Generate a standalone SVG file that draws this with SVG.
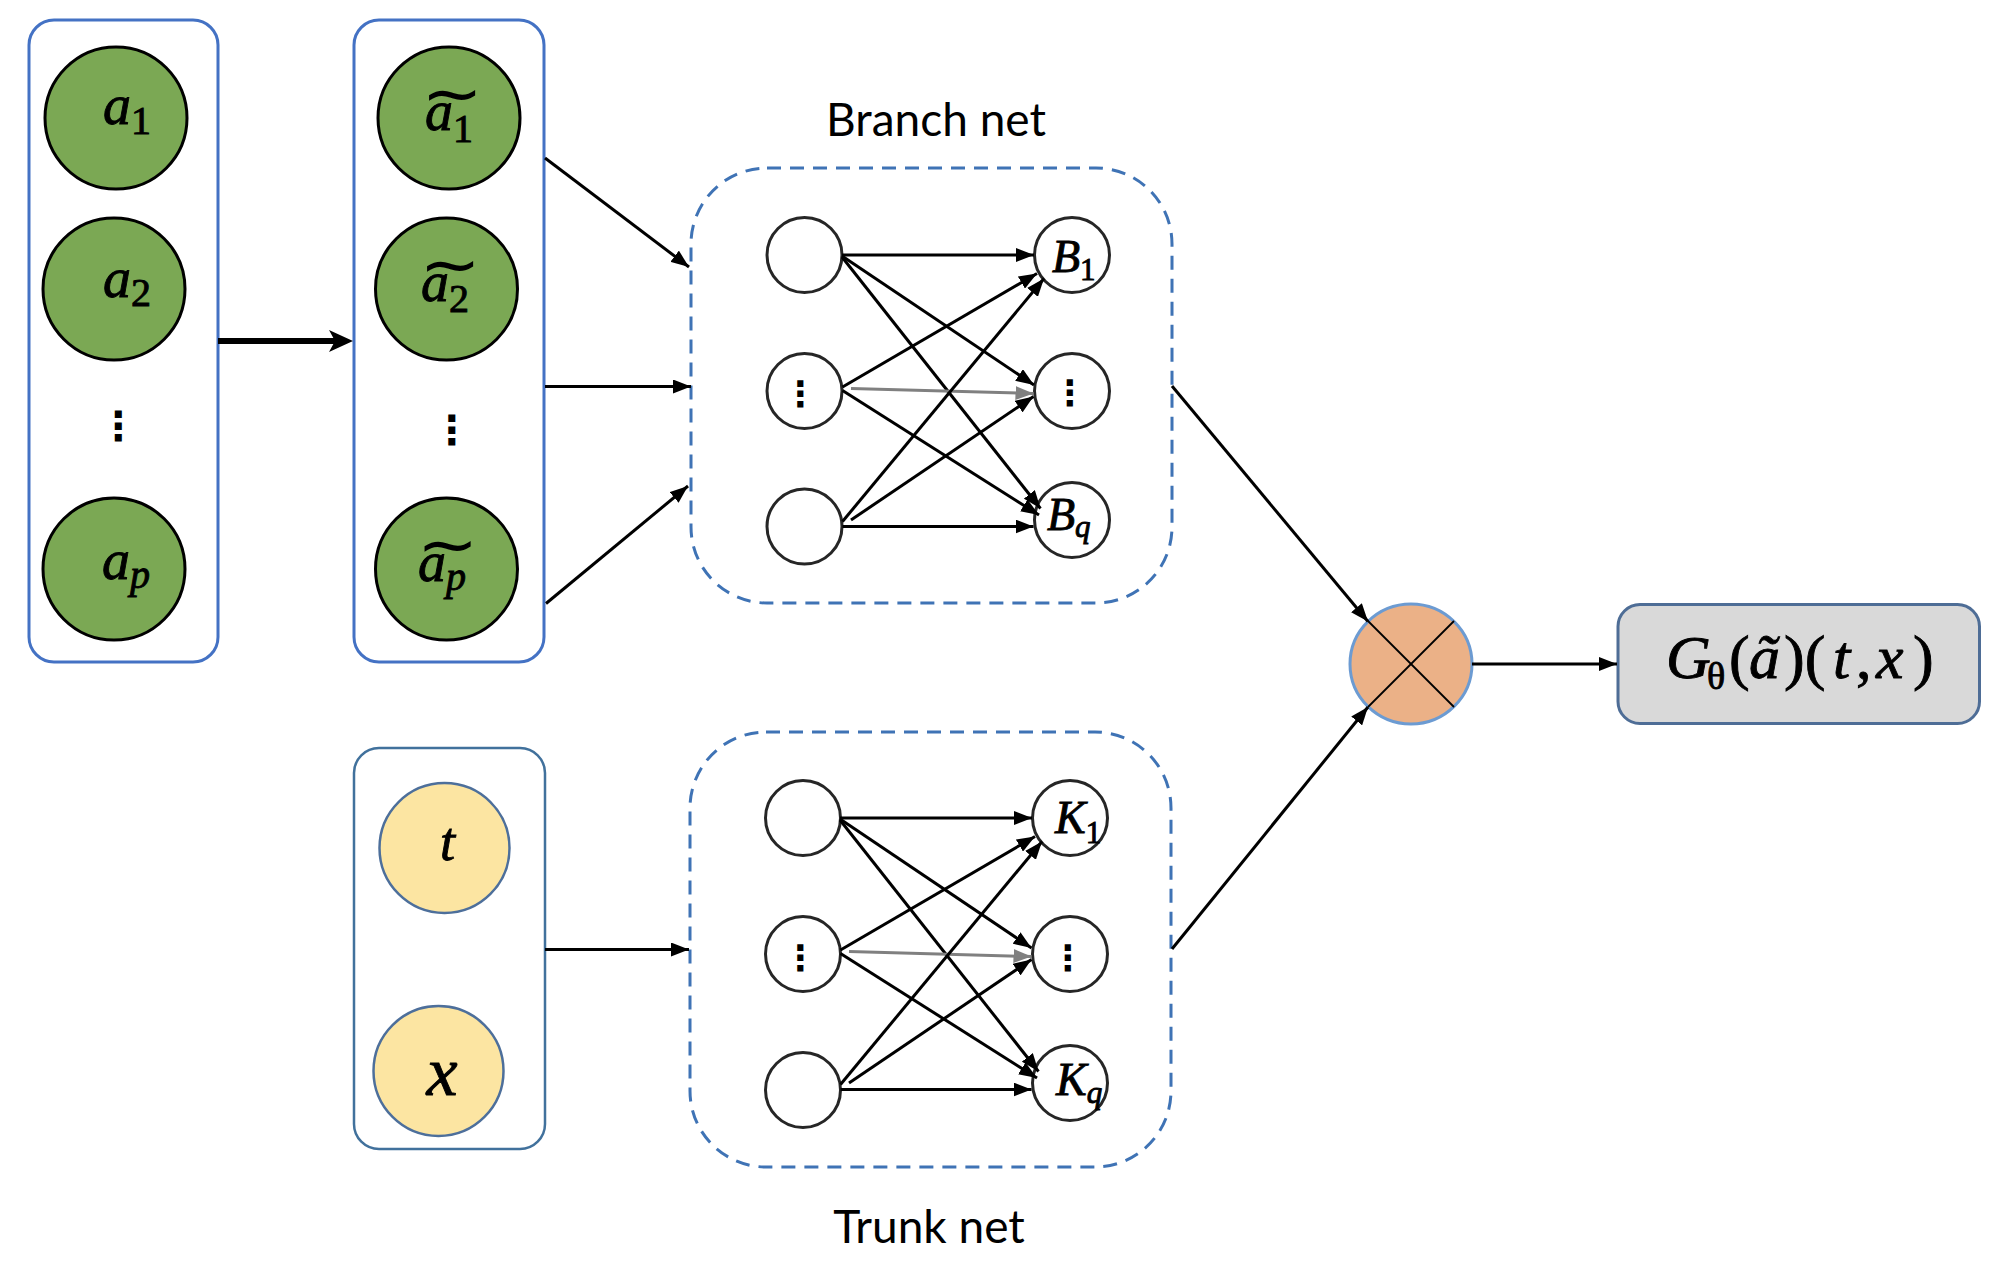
<svg xmlns="http://www.w3.org/2000/svg" width="1996" height="1264" viewBox="0 0 1996 1264">
<defs>
<marker id="ah" viewBox="0 0 18 14" refX="18" refY="7" markerWidth="18" markerHeight="14" markerUnits="userSpaceOnUse" orient="auto"><path d="M0,0L18,7L0,14z" fill="#000"/></marker>
<marker id="ahg" viewBox="0 0 18 14" refX="18" refY="7" markerWidth="18" markerHeight="14" markerUnits="userSpaceOnUse" orient="auto"><path d="M0,0L18,7L0,14z" fill="#808080"/></marker>
<marker id="ahs" viewBox="0 0 24 22" refX="6" refY="11" markerWidth="24" markerHeight="22" markerUnits="userSpaceOnUse" orient="auto"><path d="M0,0L24,11L0,22L6,11z" fill="#000"/></marker>
</defs>
<style>
.box{fill:#fff;stroke:#4472C4;stroke-width:3}
.box3{fill:#fff;stroke:#41719C;stroke-width:2.5}
.green{fill:#7BA854;stroke:#000;stroke-width:3}
.yel{fill:#FCE5A2;stroke:#4D6F9B;stroke-width:2.5}
.dash{fill:none;stroke:#3F73B5;stroke-width:3;stroke-dasharray:14 9}
.node{fill:#fff;stroke:#262626;stroke-width:3}
.e{stroke:#000;stroke-width:3;fill:none;marker-end:url(#ah)}
.eg{stroke:#808080;stroke-width:3;fill:none;marker-end:url(#ahg)}
.m{font-family:"Liberation Serif","DejaVu Serif",serif;font-style:italic;fill:#000;stroke:#000;stroke-width:0.9}
.u{font-style:normal}
.tl{font-family:"DejaVu Sans",sans-serif;font-size:64px;text-anchor:middle;fill:#000}
.title{font-family:Lato,"Open Sans",sans-serif;font-size:46px;text-anchor:middle;fill:#000}
.dots{font-family:"DejaVu Sans",sans-serif;text-anchor:middle;fill:#000;font-weight:bold}
</style>
<rect width="1996" height="1264" fill="#fff"/>

<g id="input-a">
<rect class="box" x="29" y="20" width="189" height="642" rx="25"/>
<circle class="green" cx="116" cy="118" r="71"/>
<text class="m" x="103" y="124" font-size="56">a<tspan class="u" font-size="40" dy="10">1</tspan></text>
<circle class="green" cx="114" cy="289" r="71"/>
<text class="m" x="103" y="297" font-size="56">a<tspan class="u" font-size="40" dy="9">2</tspan></text>
<text class="dots" x="118.5" y="440" font-size="40">⋮</text>
<circle class="green" cx="114" cy="569" r="71"/>
<text class="m" x="102" y="579" font-size="56">a<tspan font-size="40" dy="9">p</tspan></text>
</g>

<g id="input-a-tilde">
<rect class="box" x="354" y="20" width="190" height="642" rx="25"/>
<circle class="green" cx="449" cy="118" r="71"/>
<text class="tl" transform="translate(452,115) scale(1.15,1)">~</text>
<text class="m" x="425" y="130" font-size="56">a<tspan class="u" font-size="40" dy="12">1</tspan></text>
<circle class="green" cx="446.5" cy="289" r="71"/>
<text class="tl" transform="translate(450,286) scale(1.15,1)">~</text>
<text class="m" x="421" y="301" font-size="56">a<tspan class="u" font-size="40" dy="11">2</tspan></text>
<text class="dots" x="452" y="444" font-size="40">⋮</text>
<circle class="green" cx="446.5" cy="569" r="71"/>
<text class="tl" transform="translate(447.5,566) scale(1.15,1)">~</text>
<text class="m" x="418" y="581" font-size="56">a<tspan font-size="40" dy="9">p</tspan></text>
</g>

<g id="input-tx">
<rect class="box3" x="354" y="748" width="191" height="401" rx="25"/>
<circle class="yel" cx="444.5" cy="848" r="65"/>
<text class="m" x="447.5" y="860" font-size="54" text-anchor="middle">t</text>
<circle class="yel" cx="438.5" cy="1071" r="65"/>
<text class="m" x="442" y="1095" font-size="70" text-anchor="middle">x</text>
</g>

<g id="branch-net">
<text class="title" x="936" y="136">Branch net</text>
<rect class="dash" x="691" y="168" width="481" height="435" rx="76"/>
<circle class="node" cx="804.5" cy="255" r="37.5"/>
<circle class="node" cx="804.5" cy="391" r="37.5"/>
<text class="dots" x="800.5" y="406" font-size="35">⋮</text>
<circle class="node" cx="804.5" cy="526.5" r="37.5"/>
<circle class="node" cx="1072" cy="255" r="37.5"/>
<text class="m" x="1052" y="272" font-size="46">B<tspan class="u" font-size="31" dy="8">1</tspan></text>
<circle class="node" cx="1072" cy="391" r="37.5"/>
<text class="dots" x="1070" y="405" font-size="35">⋮</text>
<circle class="node" cx="1072" cy="520" r="37.5"/>
<text class="m" x="1047" y="530" font-size="46">B<tspan font-size="31" dy="7">q</tspan></text>
</g>

<g id="trunk-net">
<rect class="dash" x="690" y="732" width="481" height="435" rx="76"/>
<circle class="node" cx="803" cy="818" r="37.5"/>
<circle class="node" cx="803" cy="954" r="37.5"/>
<text class="dots" x="800.5" y="969.5" font-size="35">⋮</text>
<circle class="node" cx="803" cy="1090" r="37.5"/>
<circle class="node" cx="1070" cy="818" r="37.5"/>
<text class="m" x="1055" y="833" font-size="46">K<tspan class="u" font-size="31" dy="10">1</tspan></text>
<circle class="node" cx="1070" cy="954" r="37.5"/>
<text class="dots" x="1068" y="969.5" font-size="35">⋮</text>
<circle class="node" cx="1070" cy="1083" r="37.5"/>
<text class="m" x="1056" y="1095" font-size="46">K<tspan font-size="31" dy="8">q</tspan></text>
<text class="title" x="929" y="1243">Trunk net</text>
</g>

<g id="multiply">
<ellipse cx="1411" cy="664" rx="61" ry="60" fill="#EBB187" stroke="#6C9BD2" stroke-width="3"/>
<line x1="1368" y1="621" x2="1454" y2="707" stroke="#000" stroke-width="1.8"/>
<line x1="1368" y1="707" x2="1454" y2="621" stroke="#000" stroke-width="1.8"/>
</g>

<g id="output">
<rect x="1618" y="604.5" width="361.5" height="119" rx="22" fill="#D9D9D9" stroke="#4E6D96" stroke-width="3"/>
<text class="m" font-size="62"><tspan x="1666" y="678">G</tspan><tspan class="u" x="1707" y="689" font-size="38">θ</tspan><tspan class="u" x="1729" y="678">(</tspan><tspan x="1749" y="678">ã</tspan><tspan class="u" x="1784" y="678">)(</tspan><tspan x="1833" y="678">t</tspan><tspan class="u" x="1856" y="678">,</tspan><tspan x="1876" y="678">x</tspan><tspan class="u" x="1913" y="678">)</tspan></text>
</g>

<g id="connectors">
<line x1="218" y1="341" x2="335" y2="341" stroke="#000" stroke-width="6" marker-end="url(#ahs)"/>
<line class="e" x1="545" y1="158" x2="689" y2="267"/>
<line class="e" x1="545" y1="386.5" x2="691" y2="386.5"/>
<line class="e" x1="546" y1="603.5" x2="688" y2="486"/>
<line class="e" x1="545" y1="949.5" x2="689" y2="949.5"/>
<line class="e" x1="842" y1="255" x2="1034" y2="255"/>
<line class="e" x1="842" y1="256" x2="1034" y2="385"/>
<line class="e" x1="842" y1="257" x2="1040.5" y2="508.5"/>
<line class="e" x1="842.5" y1="387" x2="1037" y2="273.5"/>
<line class="eg" x1="851" y1="388.5" x2="1033.5" y2="393.5"/>
<line class="e" x1="842.5" y1="390.5" x2="1039" y2="515"/>
<line class="e" x1="842.5" y1="521.5" x2="1044" y2="278.5"/>
<line class="e" x1="851" y1="520" x2="1033.5" y2="396.5"/>
<line class="e" x1="842.5" y1="526.5" x2="1033.5" y2="526.5"/>
<line class="e" x1="840" y1="818" x2="1032" y2="818"/>
<line class="e" x1="840" y1="819" x2="1031.5" y2="948"/>
<line class="e" x1="840" y1="820" x2="1038.5" y2="1071.5"/>
<line class="e" x1="840.5" y1="950" x2="1035" y2="836.5"/>
<line class="eg" x1="849" y1="951.5" x2="1031.5" y2="956.5"/>
<line class="e" x1="840.5" y1="953.5" x2="1037" y2="1078"/>
<line class="e" x1="840.5" y1="1084.5" x2="1042" y2="841.5"/>
<line class="e" x1="849" y1="1083" x2="1031.5" y2="959.5"/>
<line class="e" x1="840.5" y1="1089.5" x2="1031.5" y2="1089.5"/>
<line class="e" x1="1172" y1="386" x2="1368" y2="621.5"/>
<line class="e" x1="1172" y1="949" x2="1368" y2="707"/>
<line class="e" x1="1472" y1="664" x2="1617" y2="664"/>
</g>
</svg>
